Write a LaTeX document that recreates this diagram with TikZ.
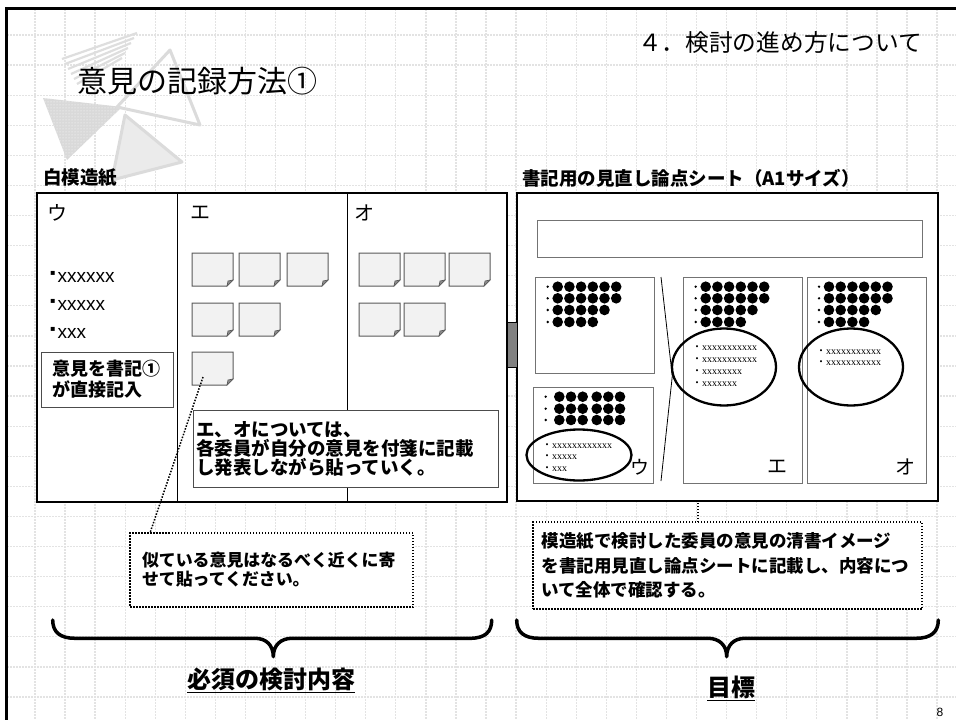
\documentclass[tikz,border=0pt]{standalone}
\usepackage{fontspec}
\setmainfont{Noto Sans CJK JP}
\newfontfamily\jpf{Noto Sans CJK JP}
\newfontfamily\ars{Liberation Sans}
\newfontfamily\srf{Liberation Serif}
\newfontfamily\djv{DejaVu Sans}
\usetikzlibrary{shapes.geometric,patterns}
\newcommand\fs[1]{\fontsize{#1}{#1}\selectfont}
\newcommand\dotrow[3]{\fill (#1,#2) circle (1.3); \foreach \i in {1,...,#3}{\fill ({#1+10+11.7*(\i-1)},#2) circle (5.3);}}
\newcommand\stk[3]{%
  \node[stickybox, anchor=north west] (#1) at (#2,#3) {};
  \filldraw[stickyfill] (#1.north west) -- (#1.north east) -- ([yshift=6pt]#1.south east) -- ([xshift=-6pt]#1.south east) -- (#1.south west) -- cycle;
  \filldraw[stickyfold] ([yshift=6pt]#1.south east) -- ([xshift=-6pt]#1.south east) -- ([xshift=-5pt,yshift=5pt]#1.south east) -- cycle;
}
\tikzset{
  gridline/.style={draw=black!11, line width=1.3pt, dash pattern=on 1.6pt off 1.4pt},
  bigbox/.style={draw, line width=2.5pt, fill=white, inner sep=0pt, outer sep=0pt},
  panel/.style={draw=black!55, line width=0.9pt, fill=white, inner sep=0pt, outer sep=0pt},
  stickybox/.style={inner sep=0pt, outer sep=0pt, minimum width=41pt, minimum height=33pt},
  stickyfill/.style={fill=black!5, draw=black!65, line width=1pt},
  stickyfold/.style={fill=black!45, draw=black!65, line width=0.6pt},
  dotbox/.style={draw, line width=1.5pt, dash pattern=on 1.5pt off 1.5pt, fill=white, inner ysep=0pt, outer sep=0pt},
  dotline/.style={line width=1.5pt, dash pattern=on 1.5pt off 1.5pt},
  oval/.style={ellipse, draw, line width=2.3pt, inner sep=0pt},
  txt/.style={inner sep=0pt},
  smalltxt/.style={inner sep=0pt, anchor=west, font=\srf\fs{10}},
  brace/.style={line width=3.5pt, line cap=round, line join=round},
  deco/.style={draw=black!14, line width=3pt, line join=round},
}
\begin{document}
\begin{tikzpicture}[x=1pt,y=-1pt]
\useasboundingbox (0,0) rectangle (956,720);
\fill[white] (0,0) rectangle (956,720);
% grid
\foreach \k in {0,...,30}{\draw[gridline] ({35+30.07*\k},9) -- ({35+30.07*\k},720);}
\foreach \k in {0,...,22}{\draw[gridline] (7,{35+30.09*\k}) -- (956,{35+30.09*\k});}
% frame
\draw[line width=3pt] (956,8) -- (6,8) -- (6,720);
% decoration
\foreach \i in {0,...,5}{\draw[black!13, line width=2.2pt] ({62+3*\i},{59+5*\i}) -- ({137-3*\i},{33+5*\i});}
\fill[black!15] (43,98) -- (122,107) -- (67,160) -- cycle;
\fill[pattern=dots, pattern color=white] (43,98) -- (122,107) -- (67,160) -- cycle;
\draw[deco] (170,50) -- (200,125) -- (117,107) -- cycle;
\filldraw[deco, fill=black!8] (125,115) -- (182,162) -- (112,180) -- cycle;
% titles
\node[txt, anchor=west, font=\fs{30}] (title) at (77,81) {意見の記録方法①};
\node[txt, anchor=east, font=\fs{23.7}] (sec) at (922,43) {４．検討の進め方について};
\node[txt, anchor=west, font=\fs{18.5}\bfseries] (lbl1) at (43,178) {白模造紙};
\node[txt, anchor=west, font=\fs{18.5}\bfseries] (lbl2) at (522,178) {書記用の見直し論点シート（A1サイズ）};
% big boxes
\node[bigbox, minimum width=470pt, minimum height=309pt, anchor=north west] (lb) at (37,193) {};
\node[bigbox, minimum width=421pt, minimum height=308pt, anchor=north west] (rb) at (517,193) {};
\coordinate (d1) at (177,0);
\coordinate (d2) at (347,0);
\draw[line width=1pt] (lb.north -| d1) -- (lb.south -| d1);
\draw[line width=1pt] (lb.north -| d2) -- (lb.south -| d2);
\node[draw, fill=black!50, line width=1pt, minimum width=10pt, minimum height=45pt, inner sep=0pt] (link) at (512,344.5) {};
% left box content
\node[txt, font=\fs{20}] (hu) at (57.5,213) {ウ};
\node[txt, font=\fs{20}] (he) at (200.5,213) {エ};
\node[txt, font=\fs{20}] (ho) at (364,213) {オ};
\node[txt, anchor=west, font=\ars\fs{19}] (b1) at (50,277) {\raisebox{7pt}{\djv\fs{8}▪}\hspace{2pt}xxxxxx};
\node[txt, anchor=west, font=\ars\fs{19}] (b2) at (50,305) {\raisebox{7pt}{\djv\fs{8}▪}\hspace{2pt}xxxxx};
\node[txt, anchor=west, font=\ars\fs{19}] (b3) at (50,333) {\raisebox{7pt}{\djv\fs{8}▪}\hspace{2pt}xxx};
\node[draw=black!70, line width=1pt, fill=white, minimum width=132pt, minimum height=55pt, text width=110pt, align=left, inner xsep=11pt, inner ysep=0pt, outer sep=0pt, font=\fontsize{18}{21}\selectfont\bfseries, anchor=north west] (nb) at (41,352) {意見を書記①\\が直接記入};
\stk{s1}{192}{253}\stk{s2}{239}{253}\stk{s3}{287}{253}
\stk{s4}{192}{303}\stk{s5}{239}{303}
\stk{s6}{192}{352}
\stk{s7}{359}{253}\stk{s8}{404}{253}\stk{s9}{449}{253}
\stk{s10}{359}{303}\stk{s11}{404}{303}
\node[draw=black!70, line width=1pt, fill=white, minimum width=305pt, minimum height=77pt, text width=299pt, inner xsep=3pt, inner ysep=0pt, outer sep=0pt, align=left, font=\fontsize{18.5}{19}\selectfont\bfseries, anchor=north west] (cl) at (193,410) {エ、オについては、\\各委員が自分の意見を付箋に記載\\し発表しながら貼っていく。};
% right box content
\node[panel, minimum width=385pt, minimum height=37pt] (strip) at (729.5,238.5) {};
\node[panel, minimum width=119pt, minimum height=96pt] (p1) at (594.5,325) {};
\node[panel, minimum width=120pt, minimum height=96pt] (p2) at (593,435) {};
\node[panel, minimum width=119pt, minimum height=206pt] (pe) at (742.5,380) {};
\node[panel, minimum width=119pt, minimum height=206pt] (po) at (866.5,380) {};
\dotrow{547.7}{286.7}{6}\dotrow{547.7}{298.3}{6}\dotrow{547.7}{310}{5}\dotrow{547.7}{322}{4}
\dotrow{695.7}{286.7}{6}\dotrow{695.7}{298.3}{6}\dotrow{695.7}{310}{5}\dotrow{695.7}{322}{4}
\dotrow{819}{286.7}{6}\dotrow{819}{298.3}{6}\dotrow{819}{310}{5}\dotrow{819}{322}{4}
\foreach \yy in {396.7,408.7,420}{
  \fill (545.7,\yy) circle (1.3);
  \foreach \xx in {559.3,571,582.7,596.7,608.3,620}{\fill (\xx,\yy) circle (5.3);}
}
\node[smalltxt] (t21) at (542,446) {{\jpf ・}xxxxxxxxxxxx};
\node[smalltxt] (t22) at (542,457.5) {{\jpf ・}xxxxx};
\node[smalltxt] (t23) at (542,469) {{\jpf ・}xxx};
\node[smalltxt] (te1) at (692,348) {{\jpf ・}xxxxxxxxxxx};
\node[smalltxt] (te2) at (692,360) {{\jpf ・}xxxxxxxxxxx};
\node[smalltxt] (te3) at (692,372) {{\jpf ・}xxxxxxxx};
\node[smalltxt] (te4) at (692,384) {{\jpf ・}xxxxxxx};
\node[smalltxt] (to1) at (816,352) {{\jpf ・}xxxxxxxxxxx};
\node[smalltxt] (to2) at (816,363.5) {{\jpf ・}xxxxxxxxxxx};
\node[oval, minimum width=104pt, minimum height=77pt] (ee) at (724,367) {};
\node[oval, minimum width=104pt, minimum height=77pt] (eo) at (851,367) {};
\node[oval, minimum width=105pt, minimum height=51pt] (eu) at (579,455) {};
\coordinate (m1) at (661,277);
\coordinate (m2) at (661,481);
\draw[line width=0.8pt] (m1) -- (ee.190);
\draw[line width=0.8pt] (m2) -- (ee.190);
\node[txt, font=\fs{19}] (lu) at (640,467) {ウ};
\node[txt, font=\fs{20}] (le) at (777,467) {エ};
\node[txt, font=\fs{20}] (lo) at (905,467) {オ};
% callouts
\node[dotbox, minimum width=283pt, minimum height=74pt, text width=259pt, inner xsep=12pt, align=left, font=\fontsize{16.9}{19}\selectfont\bfseries, anchor=north west] (cb) at (130,533) {似ている意見はなるべく近くに寄\\せて貼ってください。};
\node[dotbox, minimum width=389pt, minimum height=87pt, text width=372pt, inner xsep=8.5pt, align=left, font=\fontsize{17.5}{24.5}\selectfont\bfseries, anchor=north west] (cr) at (533,522) {模造紙で検討した委員の意見の清書イメージ\\を書記用見直し論点シートに記載し、内容につ\\いて全体で確認する。};
\draw[dotline] ([xshift=11pt,yshift=8pt]s6.south west) -- ([xshift=20pt]cb.north west);
\coordinate (crt) at ([xshift=-29.5pt]cr.north);
\draw[dotline] (crt) -- (crt |- rb.south);
% braces
\draw[brace] (52.7,620) .. controls (52.7,632) and (60,638.3) .. (75,638.3) -- (255,638.3) .. controls (266,638.3) and (273.3,645) .. (273.3,656.7) .. controls (273.3,645) and (281,638.3) .. (292,638.3) -- (470,638.3) .. controls (485,638.3) and (491.7,632) .. (491.7,620);
\draw[brace] (516.7,620) .. controls (516.7,632) and (524,638.3) .. (539,638.3) -- (708,638.3) .. controls (719,638.3) and (726.7,645) .. (726.7,656.7) .. controls (726.7,645) and (734,638.3) .. (745,638.3) -- (916,638.3) .. controls (931,638.3) and (938.3,632) .. (938.3,620);
\node[txt, anchor=base, font=\fs{24}\bfseries] (lab1) at (271,688.5) {\underline{必須の検討内容}};
\node[txt, anchor=base, font=\fs{24}\bfseries] (lab2) at (731,696.5) {\underline{目標}};
\node[txt, font=\ars\fs{12}] (pg) at (940,712) {8};
\end{tikzpicture}
\end{document}
